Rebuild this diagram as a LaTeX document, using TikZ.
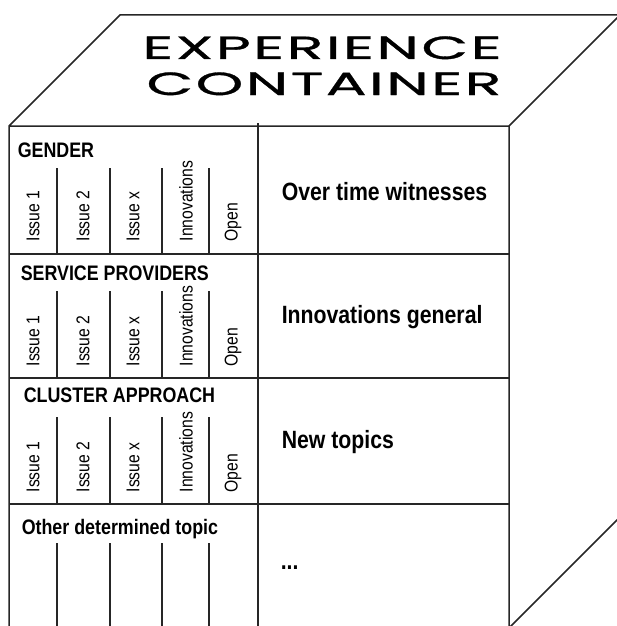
\documentclass[tikz,border=0pt]{standalone}
\usepackage{fontspec}
\usepackage{tikz}
\newfontfamily\boxfont[FakeStretch=0.85]{Liberation Sans}
\newfontfamily\titlefont[FakeStretch=1.9,LetterSpace=7,FakeBold=1]{Poppins}

\begin{document}
\begin{tikzpicture}[x=1pt,y=-1pt,line width=1.5pt,
    heading/.style={anchor=base west,inner sep=0pt,font=\boxfont\bfseries\fontsize{21}{25}\selectfont},
    topic/.style={anchor=base west,inner sep=0pt,font=\boxfont\bfseries\fontsize{25}{30}\selectfont},
    issue/.style={rotate=90,anchor=west,inner sep=0pt,font=\boxfont\fontsize{18.5}{22}\selectfont},
    title/.style={anchor=base,inner sep=0pt,font=\titlefont\fontsize{32}{38}\selectfont}]
    \useasboundingbox (0,0) rectangle (617,626);
    \clip (0,0) rectangle (617,626);

    % corners of the box
    \coordinate (ftl) at (9,126);
    \coordinate (ftr) at (509,126);
    \coordinate (fbl) at (9,640);
    \coordinate (fbr) at (509,628);
    \coordinate (btl) at (120,15);
    \coordinate (btr) at (620,15);
    \coordinate (bbr) at (620,517);
    \draw[black!85] (fbl) -- (ftl) -- (btl) -- (btr) -- (ftr) -- (ftl);
    \draw[black!85] (ftr) -- (fbr) -- (bbr);

    % rows and columns of the front face
    \draw[black!85] (258,123) -- (258,640);
    \foreach \y in {254,378,504}
        \draw[black!85] (9,\y) -- (509,\y);
    \foreach \t/\b in {168/254,291/378,417/504,543/640}
        \foreach \x in {57,110,162,209}
            \draw[black!85] (\x,\t) -- (\x,\b);

    \node[title] (exp) at (322,59) {EXPERIENCE};
    \node[title] (cont) at (324,95) {CONTAINER};

    \node[heading] (gender) at (17,157) {GENDER};
    \node[heading] (service) at (20,280) {SERVICE PROVIDERS};
    \node[heading] (cluster) at (23,402) {CLUSTER APPROACH};
    \node[heading] (other) at (21,534) {Other determined topic};

    \foreach \r/\y in {1/242,2/367,3/493}
        \foreach \c/\x/\txt in {1/33/Issue 1,2/83/Issue 2,3/133/Issue x,4/186/Innovations,5/233/Open}
            \node[issue] (iss-\r-\c) at (\x,\y) {\txt};

    \node[topic] (witness) at (281,200) {Over time witnesses};
    \node[topic] (innov) at (281,323) {Innovations general};
    \node[topic] (newtop) at (281,448) {New topics};
    \node[topic] (more) at (280,569) {...};

\end{tikzpicture}
\end{document}
